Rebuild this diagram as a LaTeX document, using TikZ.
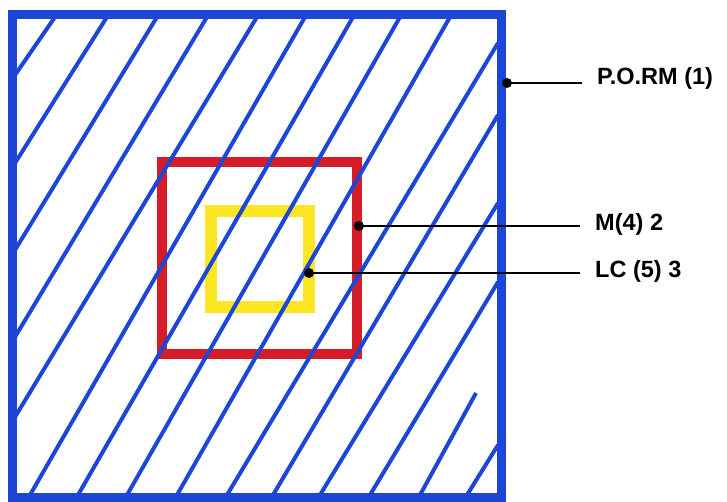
\documentclass[tikz,border=0pt]{standalone}
\usepackage{fontspec}
\setmainfont{Liberation Sans}
\usetikzlibrary{calc}
\definecolor{porblue}{RGB}{28,70,215}
\definecolor{mred}{RGB}{214,28,38}
\definecolor{lcyellow}{RGB}{250,230,35}
\tikzset{
  outerbox/.style={draw=porblue,line width=9pt},
  midbox/.style={draw=mred,line width=10pt},
  innerbox/.style={draw=lcyellow,line width=12pt},
  hatchln/.style={porblue,line width=4pt},
  leader/.style={black,line width=2pt,shorten >=15pt},
  ldot/.style={circle,fill=black,inner sep=0pt,minimum size=10pt},
  lbl/.style={anchor=west,inner sep=0pt,font=\bfseries\fontsize{23.5}{28}\selectfont},
}
\begin{document}
\begin{tikzpicture}[x=1pt,y=-1pt]
  \useasboundingbox (0,0) rectangle (727,502);
  \draw[midbox] (162,162) rectangle (357,354);
  \draw[innerbox] (211,211) rectangle (309,307);
  \foreach \ax/\ay/\bx/\by in {55/17/15/75, 107/17/15/163, 157/17/15/250,
      207/17/15/337, 257/17/15/417, 305/17/30/495, 353/17/78/495,
      400/17/127/495, 450/17/177/495, 498/43/227/495, 498/115/273/495,
      498/203/320/495, 498/282/370/495, 476/393/420/495, 498/445/467/495}
    \draw[hatchln] (\ax,\ay) -- (\bx,\by);
  \draw[outerbox] (12,15) rectangle (501,497);

  \node[ldot] (pormdot) at (507,83) {};
  \node[ldot] (mdot) at (359,226) {};
  \node[ldot] (lcdot) at (309,273) {};
  \node[lbl] (porm) at (597,78) {P.O.RM (1)};
  \node[lbl] (mlbl) at (595,224) {M(4) 2};
  \node[lbl] (lclbl) at (595,271) {LC (5) 3};
  \draw[leader] (pormdot.center) -- (pormdot.center -| porm.west);
  \draw[leader] (mdot.center) -- (mdot.center -| mlbl.west);
  \draw[leader] (lcdot.center) -- (lcdot.center -| lclbl.west);
\end{tikzpicture}
\end{document}
